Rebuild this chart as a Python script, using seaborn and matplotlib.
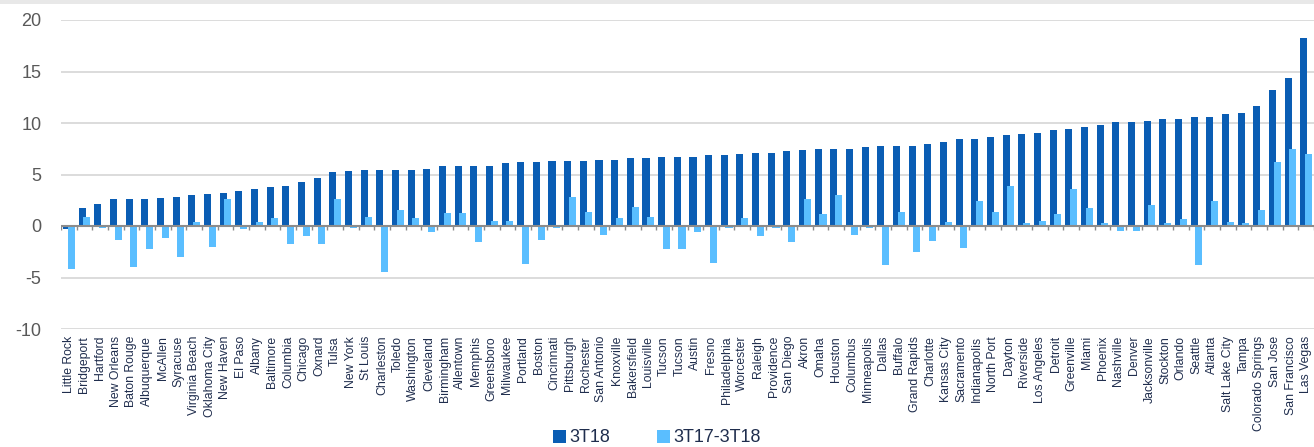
import numpy as np
import pandas as pd
import matplotlib
matplotlib.use("Agg")
import matplotlib.pyplot as plt
from matplotlib.patches import Rectangle
import seaborn as sns

cities = ["Little Rock", "Bridgeport", "Hartford", "New Orleans", "Baton Rouge", "Albuquerque",
          "McAllen", "Syracuse", "Virginia Beach", "Oklahoma City", "New Haven", "El Paso",
          "Albany", "Baltimore", "Columbia", "Chicago", "Oxnard",
          "Tulsa", "New York", "St Louis", "Charleston", "Toledo", "Washington", "Cleveland",
          "Birmingham", "Allentown", "Memphis", "Greensboro", "Milwaukee", "Portland", "Boston",
          "Cincinnati", "Pittsburgh", "Rochester", "San Antonio", "Knoxville", "Bakersfield",
          "Louisville", "Tucson", "Tucson", "Austin", "Fresno", "Philadelphia", "Worcester",
          "Raleigh", "Providence", "San Diego", "Akron", "Omaha", "Houston", "Columbus",
          "Minneapolis", "Dallas", "Buffalo", "Grand Rapids", "Charlotte", "Kansas City", "Sacramento",
          "Indianapolis", "North Port", "Dayton", "Riverside", "Los Angeles", "Detroit", "Greenville",
          "Miami", "Phoenix", "Nashville", "Denver", "Jacksonville", "Stockton", "Orlando", "Seattle",
          "Atlanta", "Salt Lake City", "Tampa", "Colorado Springs", "San Jose", "San Francisco",
          "Las Vegas"]

v_3T18 = [-0.3, 1.7, 2.1, 2.6, 2.6, 2.6, 2.7, 2.85, 3.0, 3.1, 3.25, 3.35, 3.6, 3.75, 3.9, 4.3, 4.65,
          5.2, 5.3, 5.45, 5.45, 5.45, 5.45, 5.55, 5.8, 5.8, 5.8, 5.8, 6.1, 6.2, 6.2, 6.35, 6.35, 6.35,
          6.45, 6.45, 6.6,
          6.6, 6.7, 6.7, 6.7, 6.85, 6.85, 7.0, 7.1, 7.1, 7.25, 7.4, 7.5, 7.5, 7.5, 7.65, 7.75, 7.75,
          7.75, 8.0, 8.15, 8.4,
          8.4, 8.65, 8.8, 8.95, 9.05, 9.3, 9.45, 9.6, 9.85, 10.1, 10.1, 10.2, 10.35, 10.35, 10.6, 10.6,
          10.85, 11.0, 11.65, 13.2, 14.35, 18.25]

v_3T17_3T18 = [-4.2, 0.9, -0.2, -1.35, -3.95, -2.25, -1.2, -3.05, 0.4, -2.0, 2.6, -0.3, 0.4, 0.8,
               -1.75, -1.0, -1.75,
               2.6, -0.2, 0.9, -4.45, 1.55, 0.8, -0.6, 1.3, 1.3, -1.6, 0.5, 0.5, -3.7, -1.35, -0.2,
               2.85, 1.4, -0.85, 0.8, 1.8,
               0.9, -2.25, -2.25, -0.6, -3.55, -0.2, 0.8, -1.0, -0.2, -1.6, 2.6, 1.15, 3.0, -0.85,
               -0.2, -3.8, 1.4, -2.5, -1.5, 0.4, -2.15,
               2.45, 1.4, 3.9, 0.25, 0.5, 1.15, 3.6, 1.7, 0.25, -0.45, -0.45, 2.05, 0.25, 0.65, -3.8,
               2.45, 0.4, 0.25, 1.55, 6.2, 7.5, 7.0]

series_names = ["3T18", "3T17-3T18"]
yticks = [-10, -5, 0, 5, 10, 15, 20]

DARK = "#0A5DB4"
LIGHT = "#5ABEFF"

sns.set_theme(style="white")
plt.rcParams["font.family"] = ["Liberation Sans", "DejaVu Sans"]

W, H = 1314, 447
fig = plt.figure(figsize=(W / 100, H / 100), dpi=100)
ax = fig.add_axes([61 / W, 1 - 329 / H, 1 - 61 / W, (329 - 20) / H])

pos = np.arange(len(cities))
df1 = pd.DataFrame({"x": pos - 0.15, "v": v_3T18})
df2 = pd.DataFrame({"x": pos + 0.15, "v": v_3T17_3T18})

sns.barplot(data=df1, x="x", y="v", native_scale=True, width=0.45, color=DARK,
            saturation=1, linewidth=0, errorbar=None, ax=ax, label=series_names[0])
sns.barplot(data=df2, x="x", y="v", native_scale=True, width=0.45, color=LIGHT,
            saturation=1, linewidth=0, errorbar=None, ax=ax, label=series_names[1])

handles, labels = ax.get_legend_handles_labels()
if ax.get_legend() is not None:
    ax.get_legend().remove()

ax.set_xlim(-0.5, len(cities) - 0.5)
ax.set_ylim(yticks[0], yticks[-1])
ax.set_yticks(yticks)
ax.set_yticklabels([str(t) for t in yticks], fontsize=13, color="#595959")
ax.set_xticks(pos)
ax.set_xticklabels(cities, rotation=90, fontsize=8.8, color="#1F2D4D")
ax.tick_params(axis="y", length=0, pad=14)
ax.tick_params(axis="x", length=0, pad=5)
ax.set_xlabel("")
ax.set_ylabel("")
for s in ax.spines.values():
    s.set_visible(False)
ax.grid(axis="y", color="#D9D9D9", lw=1.3)
ax.grid(axis="x", visible=False)
ax.set_axisbelow(True)

# category axis at zero with boundary tick marks
ax.axhline(0, color="#8C8C8C", lw=1.5, zorder=1.5)
ax.vlines(np.arange(len(cities) + 1) - 0.5, 0, -0.35, color="#8C8C8C", lw=1, zorder=1.5)

fig.legend(handles, labels, loc="center", bbox_to_anchor=(0.5, 1 - 438 / H), ncol=2,
           frameon=False, handlelength=0.7, handleheight=0.7, handletextpad=0.2,
           columnspacing=2.6, fontsize=13, labelcolor="#1F2D4D")

# grey strip at the very top
fig.add_artist(Rectangle((0, 1 - 4 / H), 1, 4 / H, transform=fig.transFigure,
                         color="#E8E8E8", lw=0))

fig.savefig("out.png", dpi=100)
